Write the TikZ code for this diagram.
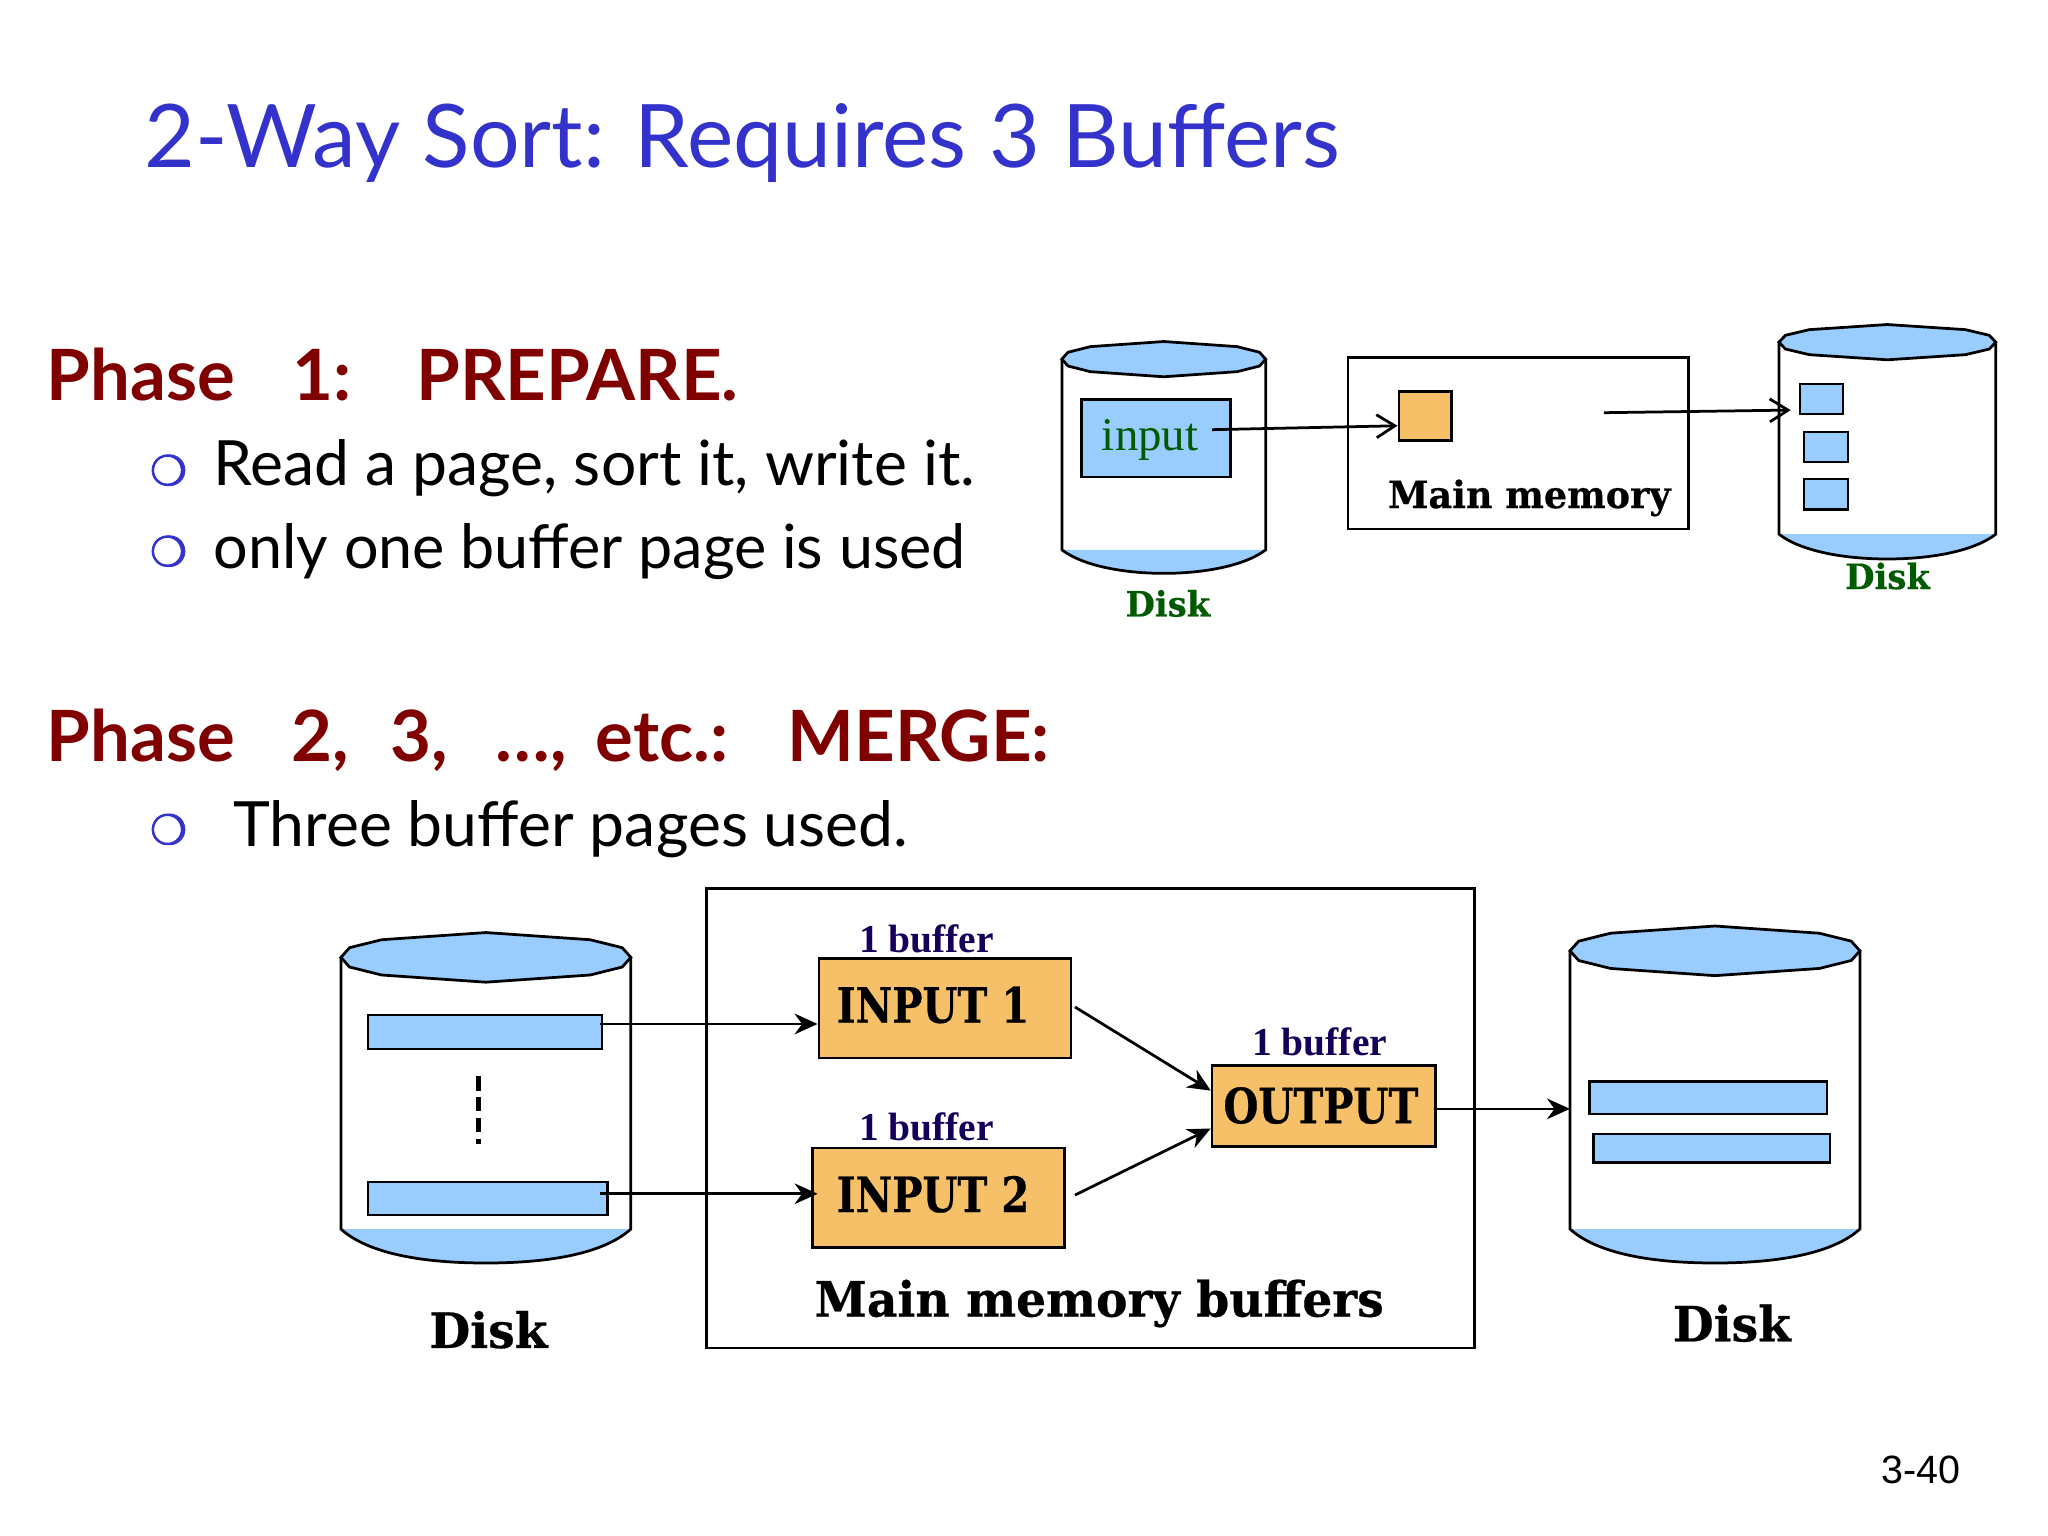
\documentclass[tikz,border=0pt]{standalone}
\usepackage{fontspec}
\usetikzlibrary{arrows.meta}
\setmainfont{Lato}
\newfontfamily\slabfont[BoldFeatures={FakeStretch=0.97,FakeBold=0.5}]{DejaVu Serif}
\newfontfamily\slabcaps[BoldFeatures={FakeStretch=0.825,FakeBold=0.5}]{DejaVu Serif}
\newfontfamily\romanfont{Liberation Serif}
\newfontfamily\arialfont{Liberation Sans}
\newfontfamily\symbolfont[FakeBold=2]{DejaVu Sans}
\definecolor{diskblue}{RGB}{153,204,255}
\definecolor{bufforange}{RGB}{245,192,104}
\definecolor{titleblue}{RGB}{51,51,204}
\definecolor{phasered}{RGB}{128,0,0}
\definecolor{diskgreen}{RGB}{0,90,0}
\definecolor{buffnavy}{RGB}{20,0,90}
\tikzset{
  bluebox/.style={draw=black, fill=diskblue, line width=0.5pt, inner sep=0pt},
  orangebox/.style={draw=black, fill=bufforange, line width=0.6pt, inner sep=0pt},
  membox/.style={draw=black, line width=0.6pt, inner sep=0pt},
  titletext/.style={anchor=base west, inner sep=0pt, text=titleblue, font=\fontsize{19.1}{24}\selectfont},
  phasetext/.style={anchor=base west, inner sep=0pt, text=phasered, font=\fontsize{15.4}{20}\selectfont\bfseries},
  bodytext/.style={anchor=base west, inner sep=0pt, font=\fontsize{13.6}{18}\selectfont},
  bulletmark/.style={inner sep=0pt, text=titleblue, font=\fontsize{9}{10}\selectfont\symbolfont},
  slabtext/.style={anchor=base west, inner sep=0pt, font=\fontsize{8.2}{10}\selectfont\slabfont\bfseries},
  greenslab/.style={anchor=base west, inner sep=0pt, text=diskgreen, font=\fontsize{7.6}{10}\selectfont\slabfont\bfseries},
  bigslab/.style={anchor=base west, inner sep=0pt, font=\fontsize{10.6}{12}\selectfont\slabfont\bfseries},
  capslab/.style={anchor=base west, inner sep=0pt, font=\fontsize{10.6}{12}\selectfont\slabcaps\bfseries},
  buffertext/.style={anchor=base west, inner sep=0pt, text=buffnavy, font=\fontsize{8.6}{10}\selectfont\romanfont\bfseries},
  thinarrow/.style={-{Straight Barb[length=4pt,width=5pt]}, line width=0.6pt},
  solidarrow/.style={-{Stealth[length=5pt,width=4.5pt]}, line width=0.6pt},
}
% x left, x right, y of lid centre, lid half height, y where fill starts, y of bottom
\newcommand{\diskdrum}[6]{
  \pgfmathsetmacro{\dw}{#2-#1}
  \fill[white] (#1,#3) -- (#1,#5) -- (#2,#5) -- (#2,#3) -- cycle;
  \fill[diskblue] (#1,#5) .. controls (#1+0.1*\dw,#6+0.06) and (#1+0.3*\dw,#6) .. (#1+0.5*\dw,#6)
    .. controls (#1+0.7*\dw,#6) and (#1+0.9*\dw,#6+0.06) .. (#2,#5) -- cycle;
  \draw[line width=0.6pt] (#1,#3) -- (#1,#5) .. controls (#1+0.1*\dw,#6+0.06) and (#1+0.3*\dw,#6) .. (#1+0.5*\dw,#6)
    .. controls (#1+0.7*\dw,#6) and (#1+0.9*\dw,#6+0.06) .. (#2,#5) -- (#2,#3);
  \draw[fill=diskblue, line width=0.6pt] (#1,#3) -- (#1+0.03*\dw,#3+0.39*#4) -- (#1+0.14*\dw,#3+0.71*#4)
    -- (#1+0.5*\dw,#3+#4) -- (#1+0.86*\dw,#3+0.71*#4) -- (#1+0.97*\dw,#3+0.39*#4) -- (#2,#3)
    -- (#1+0.97*\dw,#3-0.39*#4) -- (#1+0.86*\dw,#3-0.71*#4) -- (#1+0.5*\dw,#3-#4)
    -- (#1+0.14*\dw,#3-0.71*#4) -- (#1+0.03*\dw,#3-0.39*#4) -- cycle;
}
\begin{document}
\begin{tikzpicture}[x=1cm, y=1cm]
\useasboundingbox (0,0) rectangle (15.68,11.76);

% Slide texts
\node[titletext] (slidetitle) at (1.10, 10.48) {2-Way Sort: Requires 3 Buffers};
\node[phasetext] (phaseone) at (0.35, 8.69) {Phase\hspace{0.31cm} 1:\hspace{0.32cm} PREPARE.};
\node[bulletmark] (bulletone) at (1.29, 8.16) {❍};
\node[bodytext] (readline) at (1.63, 8.04) {Read a page, sort it, write it.};
\node[bulletmark] (bullettwo) at (1.29, 7.54) {❍};
\node[bodytext, font=\fontsize{13.3}{18}\selectfont] (onlyline) at (1.63, 7.41) {only one buffer page is used};
\node[phasetext] (phasetwo) at (0.35, 5.93) {Phase\hspace{0.30cm} 2,\hspace{0.19cm} 3,\hspace{0.23cm} \dots,\hspace{0.09cm} etc.:\hspace{0.28cm} MERGE:};
\node[bulletmark] (bulletthree) at (1.29, 5.41) {❍};
\node[bodytext] (threeline) at (1.78, 5.28) {Three buffer pages used.};
\node[anchor=base west, inner sep=0pt, font=\fontsize{8.6}{10}\selectfont\arialfont] (pagenum) at (14.40, 0.40) {3-40};

% Phase 1, disks and memory
\diskdrum{8.13}{9.69}{9.01}{0.135}{7.55}{7.37}
\diskdrum{13.62}{15.28}{9.14}{0.135}{7.67}{7.48}
\node[bluebox, minimum width=1.14cm, minimum height=0.59cm] (inputpage) at (8.85, 8.405) {};
\node[anchor=base west, inner sep=0pt, text=diskgreen, font=\fontsize{10.2}{12}\selectfont\romanfont] (inputlabel) at (8.43, 8.31) {input};
\node[membox, minimum width=2.61cm, minimum height=1.31cm] (mainmem) at (11.625, 8.365) {};
\node[orangebox, minimum width=0.40cm, minimum height=0.37cm] (membuf) at (10.91, 8.575) {};
\node[slabtext] (mainmemlabel) at (10.62, 7.87) {Main memory};
\node[bluebox, minimum width=0.33cm, minimum height=0.23cm] (pageone) at (13.945, 8.705) {};
\node[bluebox, minimum width=0.34cm, minimum height=0.23cm] (pagetwo) at (13.98, 8.335) {};
\node[bluebox, minimum width=0.34cm, minimum height=0.23cm] (pagethree) at (13.98, 7.975) {};
\node[greenslab] (diskone) at (8.61, 7.04) {Disk};
\node[greenslab] (disktwo) at (14.12, 7.25) {Disk};
\coordinate (inputstart) at (9.28, 8.47);
\coordinate (memstart) at (12.28, 8.60);
\coordinate (diskend) at (13.71, 8.62);
\draw[thinarrow] (inputstart) -- ([yshift=-0.075cm]membuf.west);
\draw[thinarrow] (memstart) -- (diskend);

% Phase 2, merge
\diskdrum{2.61}{4.83}{4.43}{0.19}{2.35}{2.09}
\diskdrum{12.02}{14.24}{4.48}{0.19}{2.35}{2.09}
\node[bluebox, minimum width=1.79cm, minimum height=0.26cm] (runtop) at (3.715, 3.86) {};
\node[bluebox, minimum width=1.83cm, minimum height=0.25cm] (runbottom) at (3.735, 2.585) {};
\draw[line width=1.1pt, dash pattern=on 0.11cm off 0.05cm] (3.66, 3.52) -- (3.66, 3.00);
\node[bluebox, minimum width=1.82cm, minimum height=0.25cm] (outrunone) at (13.08, 3.355) {};
\node[bluebox, minimum width=1.81cm, minimum height=0.22cm] (outruntwo) at (13.105, 2.97) {};
\node[membox, minimum width=5.88cm, minimum height=3.52cm] (bufferarea) at (8.35, 3.20) {};
\node[orangebox, minimum width=1.93cm, minimum height=0.76cm] (inputone) at (7.235, 4.04) {};
\node[orangebox, minimum width=1.93cm, minimum height=0.76cm] (inputtwo) at (7.185, 2.59) {};
\node[orangebox, minimum width=1.71cm, minimum height=0.62cm] (outputbuf) at (10.135, 3.29) {};
\node[capslab] (inputonelabel) at (6.40, 3.93) {INPUT 1};
\node[capslab] (inputtwolabel) at (6.40, 2.48) {INPUT 2};
\node[capslab] (outputlabel) at (9.36, 3.16) {OUTPUT};
\node[buffertext] (bufferone) at (6.57, 4.47) {1 buffer};
\node[buffertext] (buffertwo) at (6.57, 3.03) {1 buffer};
\node[buffertext] (bufferthree) at (9.58, 3.68) {1 buffer};
\node[bigslab] (bufferlabel) at (6.23, 1.68) {Main memory buffers};
\node[bigslab] (diskthree) at (3.28, 1.44) {Disk};
\node[bigslab] (diskfour) at (12.80, 1.49) {Disk};
\coordinate (runtopstart) at (4.59, 3.92);
\coordinate (runbottomstart) at (4.59, 2.62);
\coordinate (inonestart) at (8.23, 4.05);
\coordinate (intwostart) at (8.23, 2.61);
\coordinate (outdisk) at (12.02, 3.27);
\draw[solidarrow] (runtopstart) -- (runtopstart -| inputone.west);
\draw[solidarrow] (runbottomstart) -- (runbottomstart -| inputone.west);
\draw[solidarrow] (inonestart) -- ([yshift=0.12cm]outputbuf.west);
\draw[solidarrow] (intwostart) -- ([yshift=-0.17cm]outputbuf.west);
\draw[solidarrow] (outputbuf.east |- outdisk) -- (outdisk);

\end{tikzpicture}
\end{document}
